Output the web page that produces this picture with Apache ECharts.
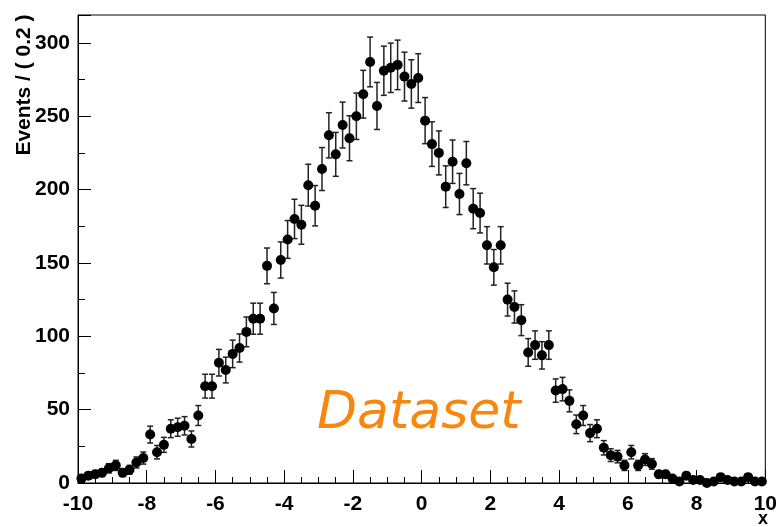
<!DOCTYPE html>
<html>
<head>
<meta charset="utf-8">
<script src="https://cdn.jsdelivr.net/npm/echarts@6/dist/echarts.min.js"></script>
<style>
html,body{margin:0;padding:0;background:#fff;}
#chart{width:780px;height:527px;}
</style>
</head>
<body>
<div id="chart"></div>
<script>
// Histogram: 100 bins of width 0.2 from -10 to 10
const xMin = -10;
const xMax = 10;
const binWidth = 0.2;
const counts = [3,5,6,7,10,12,7,9,14,17,33,21,26,37,38,39,30,46,66,66,
                82,77,88,92,103,112,112,148,119,152,166,180,176,203,189,214,237,224,244,235,
                250,265,287,257,281,283,285,277,272,276,247,231,225,202,219,197,218,187,184,162,
                147,162,125,120,111,89,94,87,94,63,64,56,40,46,34,37,24,19,18,12,
                21,12,16,13,6,6,3,1,5,2,2,0,1,4,2,1,1,4,1,1];
const yTickLabels = [0,50,100,150,200,250,300];
const xTickLabels = [-10,-8,-6,-4,-2,0,2,4,6,8,10];
const yTitle = 'Events / ( 0.2 )';
const xTitle = 'x';
const labelText = 'Dataset';

const binCenters = counts.map((c, i) => +(xMin + binWidth * (i + 0.5)).toFixed(2));
const points = counts.map((c, i) => [binCenters[i], c]);
const errData = counts.map((c, i) => [binCenters[i], c, Math.sqrt(c)]);

const chart = echarts.init(document.getElementById('chart'));
const labelFont = {color:'#000', fontFamily:'Liberation Sans, Arial, sans-serif', fontWeight:'bold', fontSize:21};

chart.setOption({
  animation:false,
  backgroundColor:'#fff',
  grid:{left:78, right:12, top:15, bottom:44, show:true, borderColor:'#000', borderWidth:1, backgroundColor:'transparent'},
  xAxis:{
    type:'value', min:xMin, max:xMax, interval:2,
    axisLine:{show:true, onZero:false, lineStyle:{color:'#000', width:1}},
    axisTick:{show:true, inside:true, length:13, lineStyle:{color:'#000', width:1}},
    minorTick:{show:true, splitNumber:4, length:6, lineStyle:{color:'#000', width:1}},
    splitLine:{show:false},
    axisLabel:Object.assign({margin:11, formatter:v => xTickLabels.includes(v) ? String(v) : ''}, labelFont)
  },
  yAxis:[{
    type:'value', min:0, max:319, interval:50, position:'left',
    axisLine:{show:true, onZero:false, lineStyle:{color:'#000', width:1}},
    axisTick:{show:true, inside:true, length:13, lineStyle:{color:'#000', width:1}},
    splitLine:{show:false},
    axisLabel:Object.assign({margin:8, formatter:v => yTickLabels.includes(v) ? String(v) : ''}, labelFont)
  },{
    type:'value', min:0, max:319, interval:25, position:'left', offset:0,
    axisLine:{show:false, onZero:false},
    axisTick:{show:true, inside:true, length:7, lineStyle:{color:'#000', width:1}},
    splitLine:{show:false},
    axisLabel:{show:false}
  }],
  series:[{
    type:'custom',
    xAxisIndex:0, yAxisIndex:0,
    data:errData,
    renderItem:function(params, api){
      const x = api.value(0), y = api.value(1), e = api.value(2);
      if (!(e > 0)) return null;
      const top = api.coord([x, y + e]);
      const bot = api.coord([x, Math.max(0, y - e)]);
      const hw = 3;
      const st = {stroke:'#222', lineWidth:1.5};
      return {type:'group', children:[
        {type:'line', shape:{x1:top[0], y1:top[1], x2:bot[0], y2:bot[1]}, style:st},
        {type:'line', shape:{x1:top[0]-hw, y1:top[1], x2:top[0]+hw, y2:top[1]}, style:st},
        {type:'line', shape:{x1:bot[0]-hw, y1:bot[1], x2:bot[0]+hw, y2:bot[1]}, style:st}
      ]};
    },
    z:2
  },{
    type:'scatter',
    xAxisIndex:0, yAxisIndex:0,
    data:points,
    symbol:'circle', symbolSize:10,
    itemStyle:{color:'#000', opacity:1},
    z:3
  }],
  graphic:[
    {type:'text', x:24, y:85, rotation:Math.PI/2,
     style:{text:yTitle, fill:'#000', font:'bold 21px "Liberation Sans", Arial, sans-serif', textAlign:'center', textVerticalAlign:'middle'}},
    {type:'text', x:763, y:519,
     style:{text:xTitle, fill:'#000', font:'bold 18px "Liberation Sans", Arial, sans-serif', textAlign:'center', textVerticalAlign:'middle'}},
    {type:'text', x:317, y:414,
     style:{text:labelText, fill:'#f7870f', font:'italic 52px "DejaVu Sans", Verdana, sans-serif', textAlign:'left', textVerticalAlign:'middle'}}
  ]
});
</script>
</body>
</html>
